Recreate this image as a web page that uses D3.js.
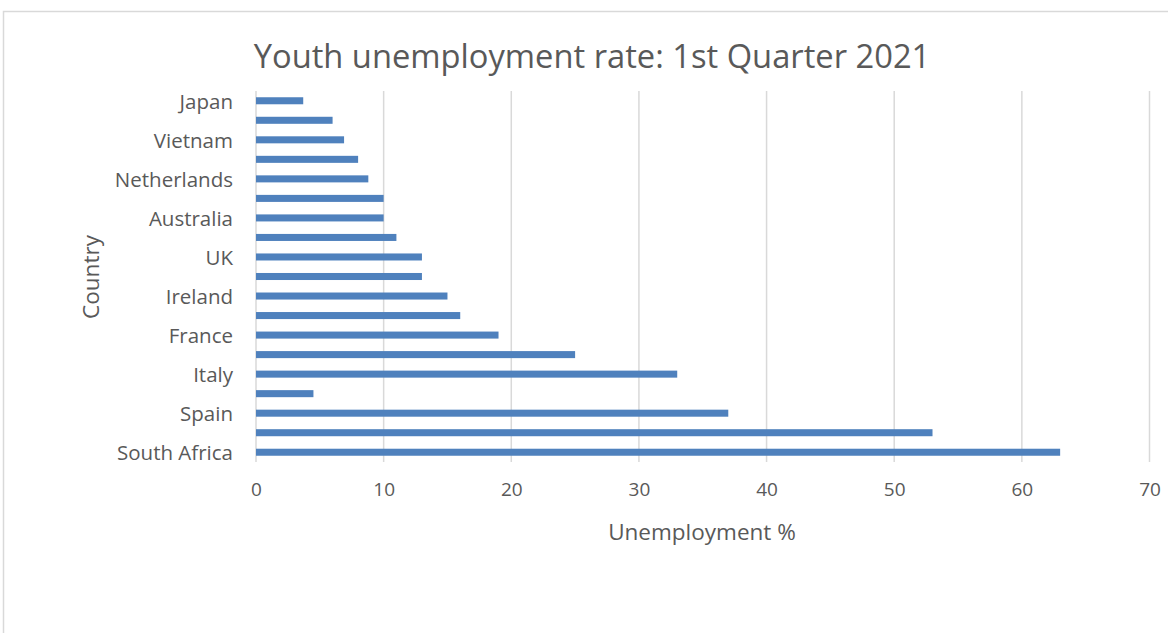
<!DOCTYPE html>
<html>
<head>
<meta charset="utf-8">
<script src="https://cdn.jsdelivr.net/npm/d3@7"></script>
<style>
  html, body { margin: 0; padding: 0; background: #fff; }
  svg { display: block; font-family: "Open Sans", "Noto Sans", sans-serif; }
</style>
</head>
<body>
<svg id="chart" width="1168" height="633"></svg>
<script>
// Youth unemployment by country, Q1 2021 (top row first)
const countries = [
  "Japan", "Germany", "Vietnam", "Switzerland", "Netherlands", "Canada",
  "Australia", "United States", "UK", "New Zealand", "Ireland", "Belgium",
  "France", "Portugal", "Italy", "South Korea", "Spain", "Greece", "South Africa"
];
const unemployment = [
  3.7, 6.0, 6.9, 8.0, 8.8, 10.0,
  10.0, 11.0, 13.0, 13.0, 15.0, 16.0,
  19.0, 25.0, 33.0, 4.5, 37.0, 53.0, 63.0
];
const xTicks = [0, 10, 20, 30, 40, 50, 60, 70];

const title = "Youth unemployment rate: 1st Quarter 2021";
const xTitle = "Unemployment %";
const yTitle = "Country";

const svg = d3.select("#chart");
const W = 1168, H = 633;
const margin = { left: 256, right: 18.5, top: 91, bottom: 171 };
const plotW = W - margin.left - margin.right;
const plotH = H - margin.top - margin.bottom;

const textColor = "#595959";
const gridColor = "#d9d9d9";
const barColor = "#4f81bd";

// chart area frame
svg.append("rect")
  .attr("x", 3.5).attr("y", 11.5)
  .attr("width", W).attr("height", H)
  .attr("fill", "#fff")
  .attr("stroke", gridColor).attr("stroke-width", 1.5);

const g = svg.append("g").attr("transform", `translate(${margin.left},${margin.top})`);

const x = d3.scaleLinear().domain([0, 70]).range([0, plotW]);
const y = d3.scaleBand().domain(countries).range([0, plotH]).paddingInner(0.64).paddingOuter(0.32);

// vertical gridlines
g.append("g")
  .selectAll("line")
  .data(xTicks)
  .join("line")
  .attr("x1", d => x(d)).attr("x2", d => x(d))
  .attr("y1", 0).attr("y2", plotH)
  .attr("stroke", gridColor).attr("stroke-width", 1.5);

// bars
g.append("g")
  .selectAll("rect")
  .data(countries)
  .join("rect")
  .attr("x", x(0))
  .attr("y", (d, i) => y(d))
  .attr("width", (d, i) => x(unemployment[i]) - x(0))
  .attr("height", y.bandwidth())
  .attr("fill", barColor);

// x axis tick labels
const xAxis = d3.axisBottom(x).tickValues(xTicks).tickSize(0).tickPadding(21);
const xg = g.append("g").attr("transform", `translate(0,${plotH})`).call(xAxis);
xg.select(".domain").remove();
xg.selectAll("text")
  .attr("fill", textColor)
  .style("font-size", "19px")
  .style("font-family", "\"Open Sans\", sans-serif");

// y axis: every other category is labelled
const yAxis = d3.axisLeft(y).tickSize(0).tickPadding(23)
  .tickFormat((d, i) => (i % 2 === 0 ? d : ""));
const yg = g.append("g").call(yAxis);
yg.select(".domain").remove();
yg.selectAll("text")
  .attr("fill", textColor)
  .attr("dy", "0.38em")
  .style("font-size", "20.5px")
  .style("font-family", "\"Open Sans\", sans-serif");

// titles
svg.append("text")
  .attr("x", 592).attr("y", 68)
  .attr("text-anchor", "middle")
  .attr("fill", textColor)
  .style("font-size", "32.7px")
  .text(title);

svg.append("text")
  .attr("x", 702).attr("y", 540)
  .attr("text-anchor", "middle")
  .attr("fill", textColor)
  .style("font-size", "22.5px")
  .text(xTitle);

svg.append("text")
  .attr("transform", "translate(99,277) rotate(-90)")
  .attr("text-anchor", "middle")
  .attr("fill", textColor)
  .style("font-size", "22.5px")
  .text(yTitle);
</script>
</body>
</html>
